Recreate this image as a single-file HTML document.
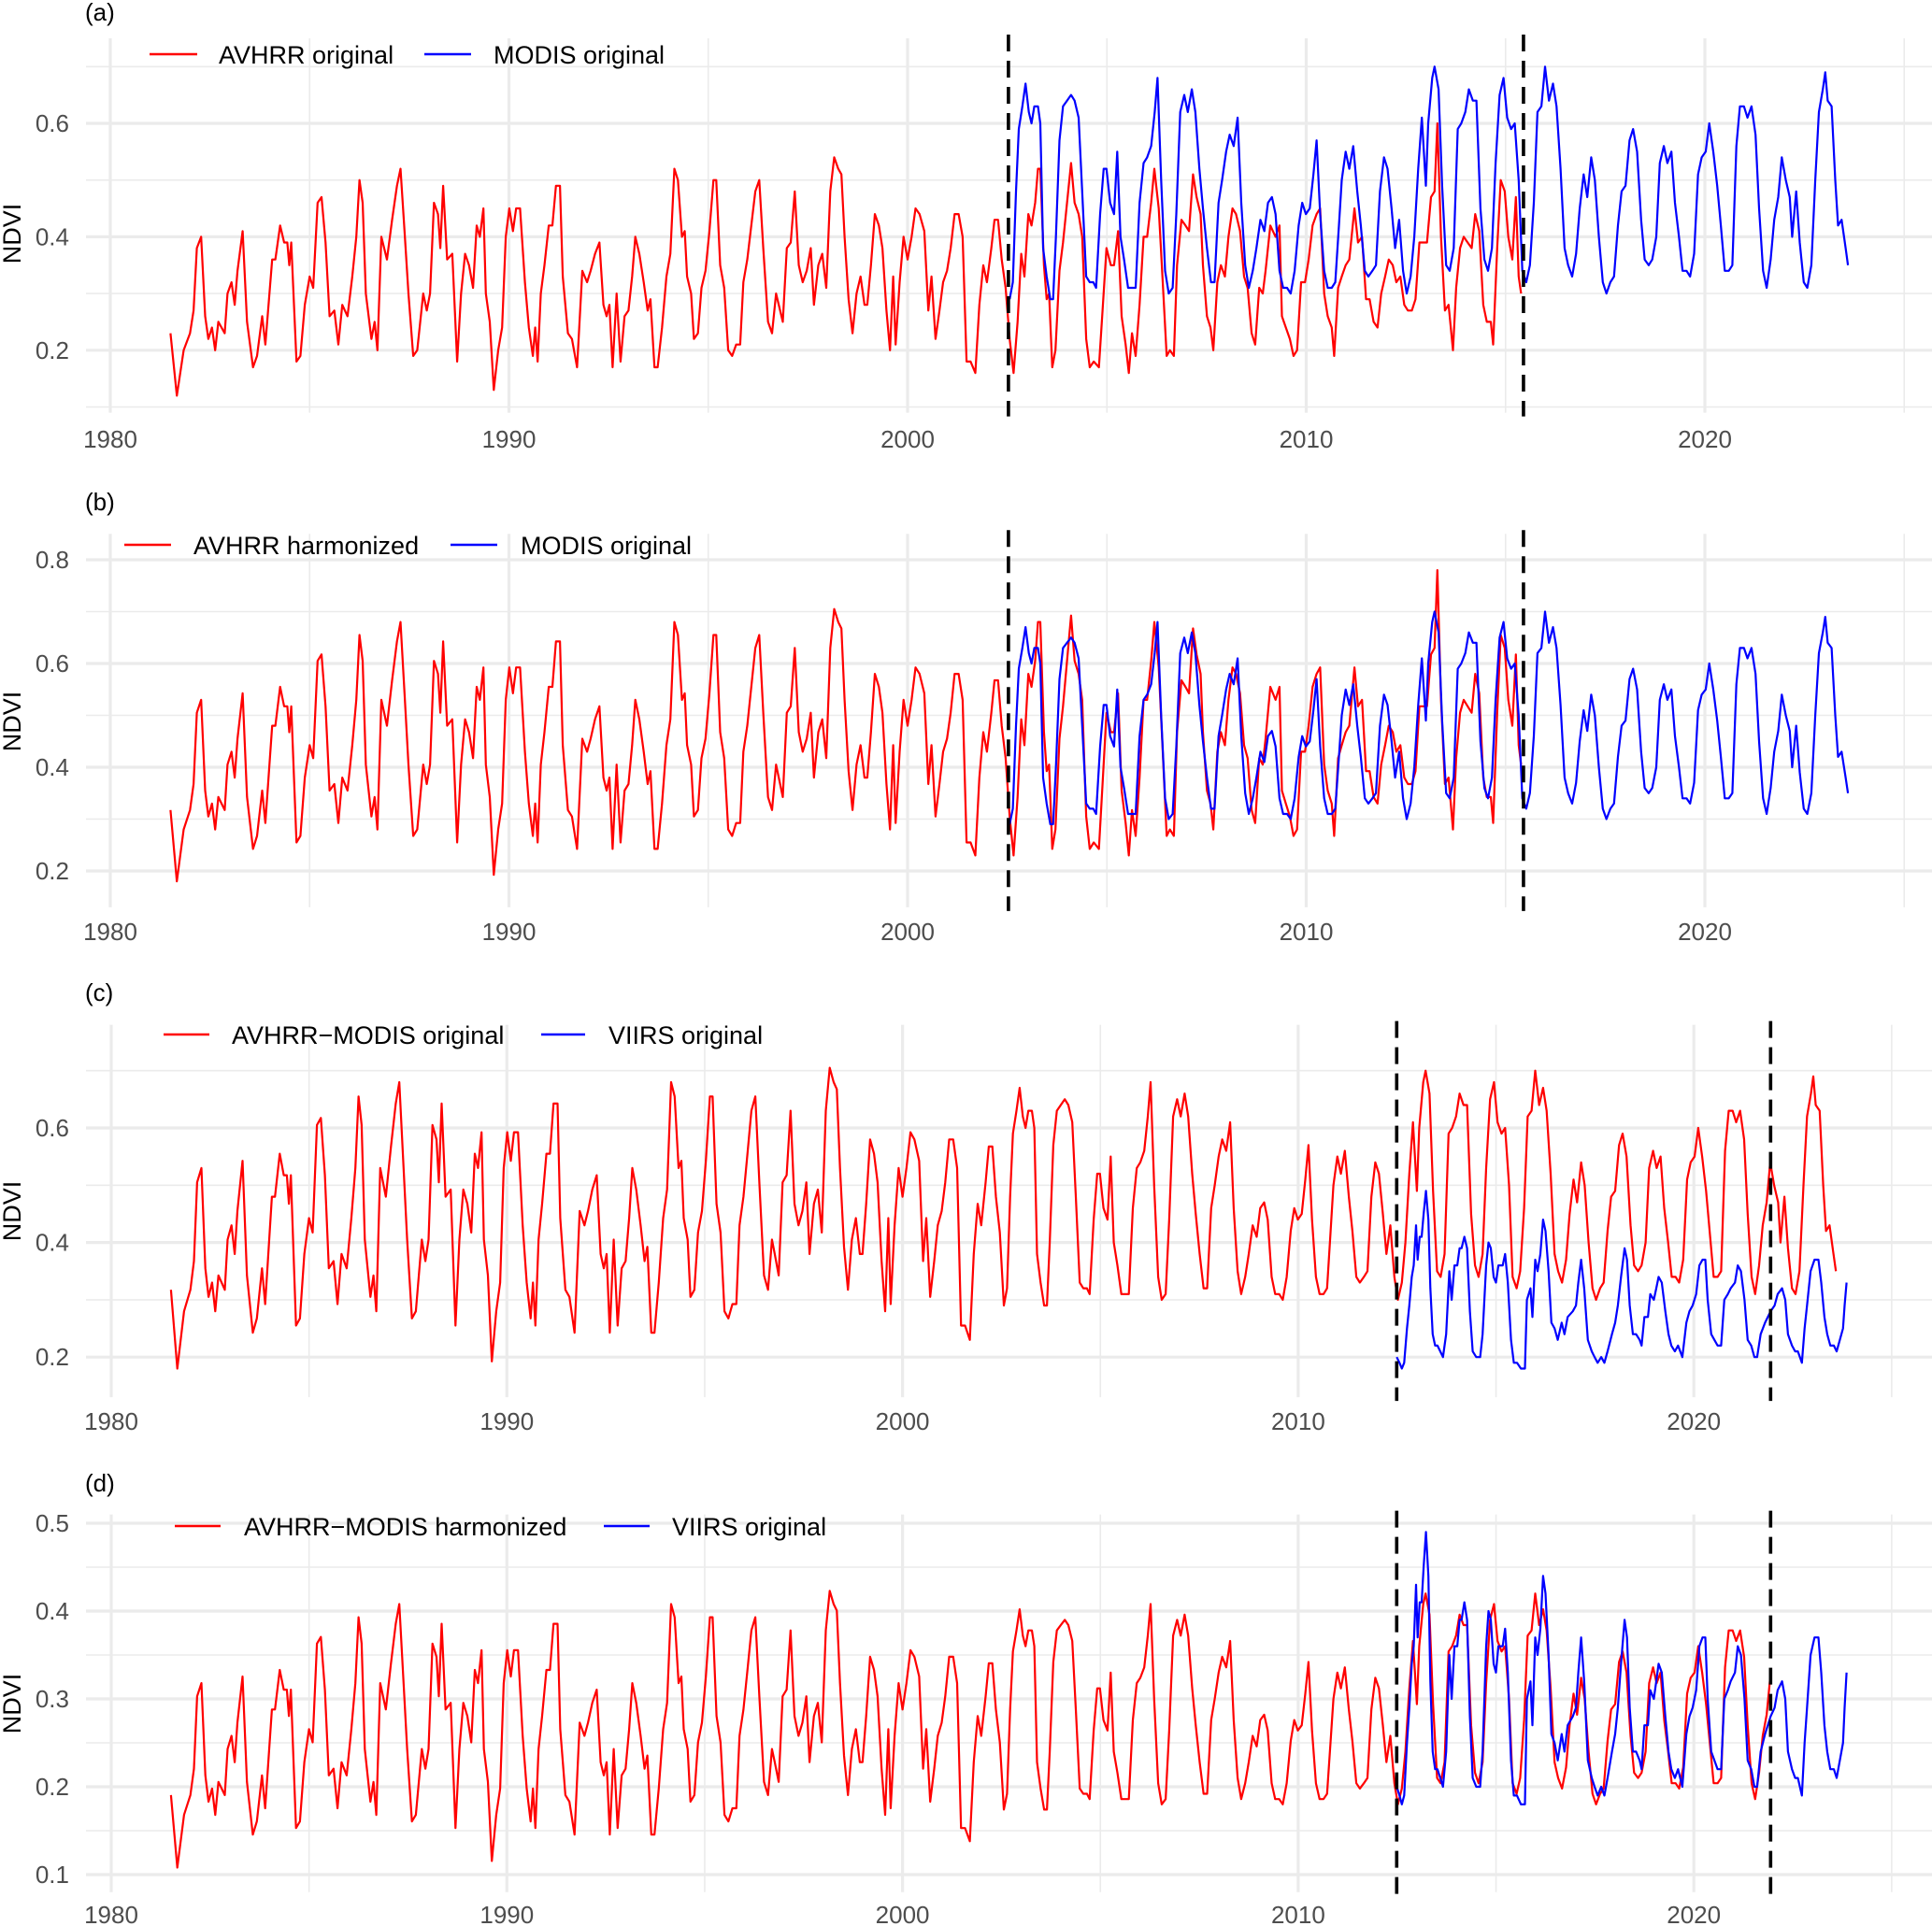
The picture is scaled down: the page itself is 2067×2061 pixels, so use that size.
<!DOCTYPE html>
<html><head><meta charset="utf-8">
<style>
html,body{margin:0;padding:0;background:#fff;}
svg{display:block;font-family:"Liberation Sans",Arial,sans-serif;}
</style></head>
<body>
<svg id="fig" width="2067" height="2061" viewBox="0 0 2067 2061" xmlns="http://www.w3.org/2000/svg"></svg>
<script>
// ---------- DATA ----------
// AVHRR original (decimal year / NDVI)
const tA=[1981.51,1981.67,1981.84,1982.0,1982.09,1982.17,1982.28,1982.38,1982.46,1982.55,
1982.63,1982.71,1982.87,1982.94,1983.04,1983.12,1983.19,1983.32,1983.43,1983.58,
1983.68,1983.81,1983.89,1984.06,1984.14,1984.26,1984.36,1984.44,1984.49,1984.54,
1984.67,1984.77,1984.88,1985.0,1985.09,1985.2,1985.3,1985.4,1985.5,1985.62,
1985.72,1985.82,1985.95,1986.07,1986.17,1986.25,1986.33,1986.41,1986.55,1986.63,
1986.7,1986.8,1986.94,1987.07,1987.19,1987.28,1987.38,1987.48,1987.6,1987.7,
1987.85,1987.94,1988.02,1988.12,1988.22,1988.28,1988.35,1988.45,1988.58,1988.7,
1988.8,1988.9,1989.0,1989.1,1989.19,1989.27,1989.36,1989.42,1989.52,1989.62,
1989.73,1989.83,1989.92,1990.01,1990.1,1990.18,1990.28,1990.4,1990.5,1990.6,
1990.66,1990.72,1990.8,1990.89,1991.0,1991.09,1991.18,1991.28,1991.35,1991.48,
1991.58,1991.71,1991.84,1991.96,1992.05,1992.16,1992.27,1992.37,1992.45,1992.52,
1992.6,1992.7,1992.8,1992.9,1993.0,1993.09,1993.17,1993.27,1993.38,1993.48,
1993.55,1993.65,1993.73,1993.84,1993.95,1994.05,1994.15,1994.24,1994.34,1994.41,
1994.47,1994.57,1994.64,1994.74,1994.83,1994.93,1995.03,1995.13,1995.2,1995.3,
1995.4,1995.5,1995.6,1995.7,1995.8,1995.88,1995.98,1996.08,1996.18,1996.28,
1996.38,1996.5,1996.6,1996.7,1996.77,1996.87,1996.97,1997.07,1997.17,1997.27,
1997.37,1997.47,1997.57,1997.65,1997.76,1997.86,1997.96,1998.06,1998.16,1998.26,
1998.34,1998.42,1998.52,1998.62,1998.72,1998.82,1998.92,1998.99,1999.08,1999.18,
1999.28,1999.37,1999.47,1999.56,1999.64,1999.7,1999.8,1999.9,2000.0,2000.1,
2000.2,2000.3,2000.42,2000.52,2000.6,2000.7,2000.8,2000.89,2000.99,2001.08,
2001.18,2001.28,2001.38,2001.48,2001.58,2001.7,2001.8,2001.9,2001.99,2002.1,
2002.18,2002.27,2002.36,2002.46,2002.56,2002.66,2002.76,2002.85,2002.93,2003.03,
2003.11,2003.2,2003.27,2003.33,2003.42,2003.49,2003.55,2003.63,2003.71,2003.81,
2003.9,2004.0,2004.1,2004.19,2004.29,2004.38,2004.48,2004.57,2004.67,2004.8,
2004.89,2004.99,2005.1,2005.18,2005.28,2005.37,2005.47,2005.55,2005.63,2005.72,
2005.82,2005.92,2006.01,2006.11,2006.19,2006.3,2006.4,2006.5,2006.58,2006.68,
2006.76,2006.87,2006.97,2007.06,2007.16,2007.25,2007.35,2007.41,2007.51,2007.6,
2007.67,2007.77,2007.86,2007.96,2008.05,2008.15,2008.24,2008.34,2008.44,2008.53,
2008.63,2008.72,2008.82,2008.91,2008.98,2009.1,2009.23,2009.33,2009.39,2009.49,
2009.59,2009.68,2009.77,2009.87,2009.97,2010.06,2010.16,2010.26,2010.35,2010.45,
2010.54,2010.64,2010.7,2010.8,2010.89,2010.99,2011.08,2011.21,2011.3,2011.4,
2011.5,2011.59,2011.69,2011.79,2011.88,2011.98,2012.07,2012.17,2012.26,2012.36,
2012.46,2012.55,2012.65,2012.74,2012.84,2012.93,2013.03,2013.13,2013.22,2013.29,
2013.38,2013.48,2013.57,2013.68,2013.76,2013.86,2013.95,2014.05,2014.15,2014.24,
2014.34,2014.44,2014.53,2014.63,2014.69,2014.79,2014.88,2014.98,2015.07,2015.17,
2015.26,2015.33,2015.39];
const vA=[.23,.12,.20,.23,.27,.38,.40,.26,.22,.24,
.20,.25,.23,.30,.32,.28,.34,.41,.25,.17,
.19,.26,.21,.36,.36,.42,.39,.39,.35,.39,
.18,.19,.28,.33,.31,.46,.47,.39,.26,.27,
.21,.28,.26,.33,.40,.50,.46,.30,.22,.25,
.20,.40,.36,.43,.49,.52,.41,.30,.19,.20,
.30,.27,.30,.46,.44,.38,.49,.36,.37,.18,
.30,.37,.35,.31,.42,.40,.45,.30,.25,.13,
.20,.24,.40,.45,.41,.45,.45,.32,.24,.19,
.24,.18,.30,.35,.42,.42,.49,.49,.33,.23,
.22,.17,.34,.32,.34,.37,.39,.28,.26,.28,
.17,.30,.18,.26,.27,.33,.40,.37,.32,.27,
.29,.17,.17,.24,.33,.37,.52,.50,.40,.41,
.33,.30,.22,.23,.31,.34,.41,.50,.50,.35,
.31,.20,.19,.21,.21,.32,.36,.42,.48,.50,
.38,.25,.23,.30,.28,.25,.38,.39,.48,.35,
.32,.34,.38,.28,.35,.37,.31,.48,.54,.52,
.51,.40,.29,.23,.30,.33,.28,.28,.35,.44,
.42,.38,.27,.20,.33,.21,.32,.40,.36,.40,
.45,.44,.41,.27,.33,.22,.27,.32,.34,.38,
.44,.44,.40,.18,.18,.16,.28,.35,.32,.38,
.43,.43,.36,.31,.22,.16,.25,.37,.33,.44,
.42,.46,.52,.52,.35,.29,.30,.17,.20,.34,
.39,.46,.53,.46,.44,.40,.22,.17,.18,.17,
.27,.38,.35,.35,.41,.26,.21,.16,.23,.19,
.28,.40,.40,.46,.52,.45,.32,.19,.20,.19,
.35,.43,.42,.41,.51,.47,.44,.35,.26,.24,
.20,.32,.35,.33,.40,.45,.44,.41,.33,.31,
.23,.21,.31,.30,.34,.42,.40,.42,.26,.24,
.22,.19,.20,.32,.32,.36,.42,.44,.45,.30,
.26,.24,.19,.31,.33,.35,.36,.45,.39,.40,
.29,.29,.25,.24,.30,.33,.36,.35,.32,.33,
.28,.27,.27,.29,.39,.39,.39,.47,.48,.60,
.40,.27,.28,.20,.31,.38,.40,.39,.38,.44,
.41,.28,.25,.25,.21,.38,.50,.48,.40,.36,
.47,.33,.30];
// MODIS original
const tM=[2002.56,2002.64,2002.72,2002.79,2002.88,2002.96,2003.04,2003.11,2003.18,2003.27,
2003.33,2003.4,2003.49,2003.58,2003.65,2003.72,2003.81,2003.9,2004.0,2004.1,
2004.19,2004.29,2004.38,2004.48,2004.57,2004.66,2004.73,2004.83,2004.92,2004.99,
2005.08,2005.18,2005.26,2005.34,2005.43,2005.53,2005.62,2005.72,2005.82,2005.92,
2006.01,2006.11,2006.2,2006.27,2006.36,2006.46,2006.55,2006.65,2006.74,2006.84,
2006.94,2007.03,2007.13,2007.22,2007.32,2007.41,2007.51,2007.61,2007.7,2007.8,
2007.89,2007.99,2008.08,2008.18,2008.28,2008.37,2008.47,2008.56,2008.66,2008.75,
2008.85,2008.95,2009.04,2009.14,2009.23,2009.33,2009.42,2009.52,2009.61,2009.71,
2009.81,2009.9,2009.99,2010.09,2010.18,2010.26,2010.35,2010.45,2010.54,2010.64,
2010.73,2010.82,2010.89,2010.99,2011.08,2011.18,2011.28,2011.37,2011.47,2011.56,
2011.66,2011.75,2011.85,2011.95,2012.04,2012.14,2012.23,2012.33,2012.43,2012.52,
2012.62,2012.71,2012.81,2012.9,2013.0,2013.06,2013.16,2013.22,2013.32,2013.41,
2013.51,2013.6,2013.7,2013.8,2013.89,2013.99,2014.08,2014.18,2014.27,2014.37,
2014.47,2014.56,2014.66,2014.75,2014.85,2014.95,2015.04,2015.14,2015.23,2015.33,
2015.42,2015.52,2015.61,2015.71,2015.8,2015.9,2015.99,2016.09,2016.19,2016.28,
2016.38,2016.48,2016.57,2016.67,2016.77,2016.86,2016.96,2017.05,2017.15,2017.24,
2017.34,2017.44,2017.53,2017.63,2017.72,2017.82,2017.91,2018.01,2018.11,2018.2,
2018.3,2018.4,2018.49,2018.59,2018.68,2018.78,2018.87,2018.97,2019.06,2019.16,
2019.25,2019.35,2019.44,2019.54,2019.63,2019.73,2019.83,2019.92,2020.02,2020.11,
2020.21,2020.31,2020.4,2020.5,2020.6,2020.69,2020.79,2020.88,2020.98,2021.07,
2021.17,2021.27,2021.36,2021.46,2021.55,2021.65,2021.74,2021.84,2021.93,2022.03,
2022.13,2022.19,2022.29,2022.38,2022.48,2022.57,2022.67,2022.77,2022.86,2022.96,
2023.02,2023.08,2023.18,2023.27,2023.34,2023.43,2023.53,2023.59];
const vM=[.29,.32,.48,.59,.63,.67,.62,.60,.63,.63,
.60,.38,.33,.29,.29,.40,.57,.63,.64,.65,
.64,.61,.48,.33,.32,.32,.31,.44,.52,.52,
.46,.44,.55,.40,.36,.31,.31,.31,.46,.53,
.54,.56,.62,.68,.50,.34,.30,.31,.44,.62,
.65,.62,.66,.62,.52,.45,.38,.32,.32,.46,
.50,.55,.58,.56,.61,.46,.35,.31,.34,.38,
.43,.41,.46,.47,.44,.34,.31,.31,.30,.34,
.42,.46,.44,.45,.51,.57,.44,.34,.31,.31,
.32,.42,.50,.55,.52,.56,.48,.42,.34,.33,
.34,.35,.48,.54,.52,.45,.38,.43,.34,.30,
.33,.40,.52,.61,.49,.60,.68,.70,.66,.49,
.35,.34,.38,.59,.60,.62,.66,.64,.64,.45,
.36,.34,.38,.53,.65,.68,.61,.59,.60,.50,
.34,.32,.35,.46,.62,.63,.70,.64,.67,.63,
.52,.38,.35,.33,.37,.45,.51,.47,.54,.50,
.40,.32,.30,.32,.33,.42,.48,.49,.57,.59,
.55,.43,.36,.35,.36,.40,.53,.56,.53,.55,
.46,.40,.34,.34,.33,.37,.51,.54,.55,.60,
.55,.49,.42,.34,.34,.35,.56,.63,.63,.61,
.63,.58,.45,.34,.31,.36,.43,.47,.54,.50,
.47,.40,.48,.39,.32,.31,.35,.50,.62,.66,
.69,.64,.63,.50,.42,.43,.38,.35];
// VIIRS original
const tV=[2012.49,2012.56,2012.62,2012.68,2012.75,2012.81,2012.87,2012.92,2012.98,2013.02,
2013.07,2013.12,2013.17,2013.23,2013.29,2013.34,2013.4,2013.46,2013.52,2013.59,
2013.66,2013.74,2013.82,2013.88,2013.95,2014.02,2014.08,2014.13,2014.2,2014.27,
2014.34,2014.41,2014.5,2014.6,2014.66,2014.75,2014.81,2014.87,2014.94,2015.0,
2015.06,2015.17,2015.23,2015.3,2015.38,2015.45,2015.53,2015.63,2015.73,2015.78,
2015.87,2015.92,2015.99,2016.05,2016.12,2016.19,2016.25,2016.33,2016.4,2016.48,
2016.56,2016.66,2016.73,2016.81,2016.94,2017.02,2017.08,2017.15,2017.23,2017.32,
2017.42,2017.49,2017.57,2017.66,2017.74,2017.82,2017.93,2018.01,2018.08,2018.16,
2018.25,2018.31,2018.38,2018.46,2018.54,2018.63,2018.68,2018.75,2018.84,2018.9,
2018.99,2019.05,2019.11,2019.19,2019.28,2019.36,2019.43,2019.52,2019.6,2019.71,
2019.81,2019.89,2019.97,2020.06,2020.14,2020.22,2020.29,2020.35,2020.44,2020.52,
2020.6,2020.69,2020.77,2020.86,2020.93,2021.04,2021.11,2021.19,2021.28,2021.36,
2021.45,2021.53,2021.6,2021.69,2021.8,2021.94,2022.04,2022.12,2022.23,2022.31,
2022.38,2022.48,2022.56,2022.63,2022.73,2022.8,2022.86,2022.95,2023.05,2023.15,
2023.22,2023.3,2023.37,2023.45,2023.54,2023.61,2023.69,2023.77,2023.81,2023.86];
const vV=[.20,.19,.18,.19,.25,.29,.34,.36,.43,.37,
.41,.41,.45,.49,.44,.32,.24,.22,.22,.21,
.20,.24,.35,.30,.36,.36,.39,.39,.41,.39,
.28,.21,.20,.20,.24,.36,.40,.39,.34,.33,
.36,.36,.38,.33,.23,.19,.19,.18,.18,.30,
.32,.27,.37,.35,.38,.44,.42,.35,.26,.25,
.23,.26,.24,.27,.28,.29,.33,.37,.32,.23,
.21,.20,.19,.20,.19,.21,.24,.26,.29,.34,
.39,.37,.29,.24,.24,.23,.22,.27,.27,.31,
.30,.32,.34,.33,.28,.24,.22,.21,.22,.20,
.26,.28,.29,.31,.36,.37,.37,.30,.24,.23,
.22,.22,.30,.31,.32,.33,.36,.35,.30,.23,
.22,.20,.20,.24,.26,.28,.29,.31,.32,.30,
.24,.22,.21,.21,.19,.25,.29,.35,.37,.37,
.33,.27,.24,.22,.22,.21,.23,.25,.29,.33];
// break years (dashed lines)
const breaksAB=[2002.53,2015.45];
const breaksCD=[2012.49,2021.94];
// harmonization coefficients (AVHRR->MODIS, AVHRR-MODIS->VIIRS)
const harmAB=[0.03,1.25];
const harmCD=[0.0,0.6];
const harmCDend=2022.0;
const yTicksA=[0.2,0.4,0.6], yTicksB=[0.2,0.4,0.6,0.8], yTicksC=[0.2,0.4,0.6], yTicksD=[0.1,0.2,0.3,0.4,0.5];
const xTicks=[1980,1990,2000,2010,2020];

// ---------- DRAW ----------
const NS="http://www.w3.org/2000/svg";
const svg=document.getElementById('fig');
function mk(tag,attrs,parent){const e=document.createElementNS(NS,tag);for(const k in attrs)e.setAttribute(k,attrs[k]);(parent||svg).appendChild(e);return e;}

const panels=[
 {id:'a',x0:118,pxy:42.65,yRef:0.6,yPix:132,ppu:607,vmin:0.09,vmax:0.75,majors:yTicksA,minors:[0.1,0.3,0.5,0.7],breaks:breaksAB,
  lab:'(a)',labY:22,xlabY:479,ndviY:250,legY:58,leg:[[160,211,234,'AVHRR original','red'],[454,504,528,'MODIS original','blue']]},
 {id:'b',x0:118,pxy:42.65,yRef:0.8,yPix:599,ppu:555,vmin:0.13,vmax:0.85,majors:yTicksB,minors:[0.3,0.5,0.7],breaks:breaksAB,
  lab:'(b)',labY:546,xlabY:1006,ndviY:772,legY:583,leg:[[133,183,207,'AVHRR harmonized','red'],[482,532,557,'MODIS original','blue']]},
 {id:'c',x0:119,pxy:42.33,yRef:0.6,yPix:1207,ppu:613,vmin:0.13,vmax:0.78,majors:yTicksC,minors:[0.3,0.5,0.7],breaks:breaksCD,
  lab:'(c)',labY:1071,xlabY:1530,ndviY:1296,legY:1107,leg:[[175,224,248,'AVHRR\u2212MODIS original','red'],[579,626,651,'VIIRS original','blue']]},
 {id:'d',x0:119,pxy:42.33,yRef:0.5,yPix:1630,ppu:940,vmin:0.08,vmax:0.51,majors:yTicksD,minors:[0.15,0.25,0.35,0.45],breaks:breaksCD,
  lab:'(d)',labY:1596,xlabY:2058,ndviY:1823,legY:1633,leg:[[187,236,261,'AVHRR\u2212MODIS harmonized','red'],[646,695,719,'VIIRS original','blue']]}
];

function series(p){
 const A=[],B=[];
 if(p.id==='a'){A.push([tA,vA]);B.push([tM,vM]);}
 else if(p.id==='b'){A.push([tA,vA.map(v=>harmAB[0]+harmAB[1]*v)]);B.push([tM,vM]);}
 else {
  const tC=[],vC=[];
  tA.forEach((t,i)=>{if(t<tM[0]){tC.push(t);vC.push(harmAB[0]+harmAB[1]*vA[i]);}});
  tM.forEach((t,i)=>{tC.push(t);vC.push(vM[i]);});
  if(p.id==='c'){A.push([tC,vC]);}
  else{const t2=[],v2=[];tC.forEach((t,i)=>{if(t<=harmCDend){t2.push(t);v2.push(harmCD[0]+harmCD[1]*vC[i]);}});A.push([t2,v2]);}
  B.push([tV,vV]);
 }
 return [A,B];
}

panels.forEach(p=>{
 const X=t=>p.x0+(t-1980)*p.pxy;
 const Y=v=>p.yPix+(p.yRef-v)*p.ppu;
 const g=mk('g',{});
 
 
 const top=Y(p.vmax), bot=Y(p.vmin);
 // horizontal grid
 p.minors.forEach(v=>{const l=mk('line',{x1:92,x2:2067,y1:Y(v),y2:Y(v),stroke:'#ebebeb','stroke-width':1.6},g);
  
  });
 p.majors.forEach(v=>{const l=mk('line',{x1:92,x2:2067,y1:Y(v),y2:Y(v),stroke:'#ebebeb','stroke-width':3.2},g);
  
  });
 // vertical grid
 for(let yr=1980;yr<=2025;yr+=5){const maj=yr%10===0;
  const l=mk('line',{x1:X(yr),x2:X(yr),y1:top,y2:bot,stroke:'#ebebeb','stroke-width':maj?3.2:1.6},g);
  
  }
 // y tick labels
 p.majors.forEach(v=>{const t=mk('text',{x:74,y:Y(v)+9,'text-anchor':'end','font-size':26,fill:'#4d4d4d'},g);t.textContent=v.toFixed(1);
  
  });
 // x tick labels
 xTicks.forEach(yr=>{const t=mk('text',{x:X(yr),y:p.xlabY,'text-anchor':'middle','font-size':26,fill:'#4d4d4d'},g);t.textContent=yr;
  
  });
 // y title
 const yt=mk('text',{x:0,y:0,transform:`translate(22,${p.ndviY}) rotate(-90)`,'text-anchor':'middle','font-size':27,fill:'#000'},g);yt.textContent='NDVI';
 
 
 // panel label
 const pl=mk('text',{x:91,y:p.labY,'font-size':26,fill:'#000'},g);pl.textContent=p.lab;
 
 
 // series
 const [red,blue]=series(p);
 const draw=(arr,col,name)=>arr.forEach(([ts,vs])=>{
  const d=ts.map((t,i)=>(i?'L':'M')+X(t).toFixed(1)+' '+Y(vs[i]).toFixed(1)).join('');
  const path=mk('path',{d:d,fill:'none',stroke:col,'stroke-width':2.2,'stroke-linejoin':'round'},g);
  
  });
 draw(red,'#ff0000','red-series-line');
 draw(blue,'#0000ff','blue-series-line');
 // break lines
 p.breaks.forEach(b=>{const l=mk('line',{x1:X(b),x2:X(b),y1:top-4,y2:bot+4,stroke:'#000','stroke-width':3.6,'stroke-dasharray':'18,10'},g);
  
  });
 // legend
 const lg=mk('g',{},g);
 
 
 p.leg.forEach(([a,b,tx,label,col])=>{
  const l=mk('line',{x1:a,x2:b,y1:p.legY,y2:p.legY,stroke:col==='red'?'#ff0000':'#0000ff','stroke-width':2.4},lg);
  
  
  const t=mk('text',{x:tx,y:p.legY+10,'font-size':27,fill:'#000'},lg);t.textContent=label;
  
  
 });
});
</script>
</body></html>
